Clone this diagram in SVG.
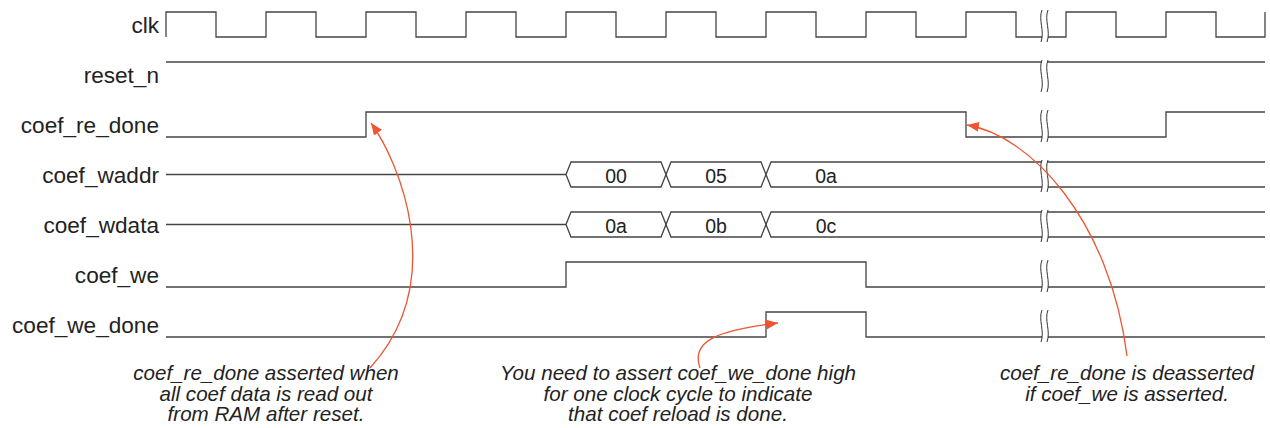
<svg xmlns="http://www.w3.org/2000/svg" xmlns:xlink="http://www.w3.org/1999/xlink" width="1270" height="428" viewBox="0 0 1270 428">
<style>
.lbl{font-family:"Liberation Sans",Arial,sans-serif;font-size:22.6px;fill:#222;text-anchor:end}
.bus{font-family:"Liberation Sans",Arial,sans-serif;font-size:19.5px;fill:#222;text-anchor:middle}
.note{font-family:"Liberation Sans",Arial,sans-serif;font-size:20.6px;font-style:italic;fill:#222;text-anchor:middle}
.sig{fill:none;stroke:#444;stroke-width:1.3}
.arr{fill:none;stroke:#EE5533;stroke-width:1.3}
.brkl{fill:none;stroke:#333;stroke-width:1}
</style>
<defs>
<marker id="ah" markerUnits="userSpaceOnUse" markerWidth="14" markerHeight="12" refX="12" refY="5" orient="auto">
<path d="M0,0 L12,5 L0,10 Z" fill="#EE5533"/>
</marker>
<g id="brk">
<path d="M-2,0 C-6,10 1,21 -3,32 L3,32 C7,21 0,10 4,0 Z" fill="#fff"/>
<path class="brkl" d="M-2,0 C-6,10 1,21 -3,32"/>
<path class="brkl" d="M4,0 C0,10 7,21 3,32"/>
</g>
</defs>
<rect width="1270" height="428" fill="#fff"/>

<g id="clk">
<text class="lbl" x="159" y="33">clk</text>
<path class="sig" d="M166,37 V12 H216 V37 H266 V12 H316 V37 H366 V12 H416 V37 H466 V12 H516 V37 H566 V12 H616 V37 H666 V12 H716 V37 H766 V12 H816 V37 H866 V12 H916 V37 H966 V12 H1016 V37 H1066 V12 H1116 V37 H1166 V12 H1216 V37 H1265 V12"/>
<use xlink:href="#brk" href="#brk" transform="translate(1044,10)"/>
</g>

<g id="reset_n">
<text class="lbl" x="159" y="83">reset_n</text>
<path class="sig" d="M166,62 H1265"/>
<use xlink:href="#brk" href="#brk" transform="translate(1044,60)"/>
</g>

<g id="coef_re_done">
<text class="lbl" x="159" y="133">coef_re_done</text>
<path class="sig" d="M166,137 H366 V112 H966 V137 H1166 V112 H1265"/>
<use xlink:href="#brk" href="#brk" transform="translate(1044,110)"/>
</g>

<g id="coef_waddr">
<text class="lbl" x="159" y="183">coef_waddr</text>
<path class="sig" d="M166,174.5 H566"/>
<path class="sig" d="M566,174.5 L571,162 H661 L671,187 H761 L771,162 H1265"/>
<path class="sig" d="M566,174.5 L571,187 H661 L671,162 H761 L771,187 H1265"/>
<text class="bus" x="616" y="183">00</text>
<text class="bus" x="716" y="183">05</text>
<text class="bus" x="826" y="183">0a</text>
<use xlink:href="#brk" href="#brk" transform="translate(1044,160)"/>
</g>

<g id="coef_wdata">
<text class="lbl" x="159" y="233">coef_wdata</text>
<path class="sig" d="M166,224.5 H566"/>
<path class="sig" d="M566,224.5 L571,212 H661 L671,237 H761 L771,212 H1265"/>
<path class="sig" d="M566,224.5 L571,237 H661 L671,212 H761 L771,237 H1265"/>
<text class="bus" x="616" y="233">0a</text>
<text class="bus" x="716" y="233">0b</text>
<text class="bus" x="826" y="233">0c</text>
<use xlink:href="#brk" href="#brk" transform="translate(1044,210)"/>
</g>

<g id="coef_we">
<text class="lbl" x="159" y="283">coef_we</text>
<path class="sig" d="M166,287 H566 V262 H866 V287 H1265"/>
<use xlink:href="#brk" href="#brk" transform="translate(1044,260)"/>
</g>

<g id="coef_we_done">
<text class="lbl" x="159" y="333">coef_we_done</text>
<path class="sig" d="M166,337 H766 V312 H866 V337 H1265"/>
<use xlink:href="#brk" href="#brk" transform="translate(1044,310)"/>
</g>

<g id="note_re_done">
<text class="note" x="266" y="380">coef_re_done asserted when</text>
<text class="note" x="266" y="401">all coef data is read out</text>
<text class="note" x="266" y="421">from RAM after reset.</text>
</g>

<g id="note_we_done">
<text class="note" x="678" y="380">You need to assert coef_we_done high</text>
<text class="note" x="678" y="401">for one clock cycle to indicate</text>
<text class="note" x="678" y="421">that coef reload is done.</text>
</g>

<g id="note_deassert">
<text class="note" x="1127" y="380">coef_re_done is deasserted</text>
<text class="note" x="1127" y="401">if coef_we is asserted.</text>
</g>

<g id="connectors">
<path class="arr" marker-end="url(#ah)" d="M370,368 C450,280 398,160 371,123"/>
<path class="arr" marker-end="url(#ah)" d="M700,368 C690,340 720,330 778,323"/>
<path class="arr" marker-end="url(#ah)" d="M1127,356 C1110,220 1030,135 967,125"/>
</g>
</svg>
